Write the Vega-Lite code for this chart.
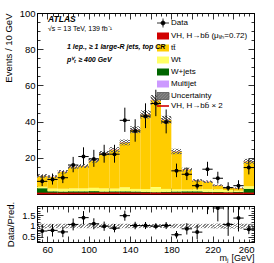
{
  "$schema": "https://vega.github.io/schema/vega-lite/v6.json",
  "padding": {"left": 2, "top": 7, "right": 2, "bottom": 0},
  "spacing": 5,
  "config": {
    "font": "Liberation Sans",
    "view": {"stroke": "black", "strokeWidth": 1},
    "axis": {"domainColor": "black", "tickColor": "black", "labelColor": "black", "titleColor": "black", "labelFont": "Liberation Sans", "titleFont": "Liberation Sans", "labelFontSize": 9.5, "titleFontSize": 9.5, "titleFontWeight": "normal", "grid": false, "labelPadding": 8, "tickWidth": 0.8}
  },
  "title": {"text": ["1 lep., ≥ 1 large-R jets,  top CR", "pⱽₜ ≥ 400 GeV"], "anchor": "start", "frame": "group", "font": "Liberation Sans", "fontSize": 7, "fontStyle": "italic", "fontWeight": "bold", "lineHeight": 13, "dx": 30, "dy": 55, "offset": 0},
  "datasets": {
    "stack": [
      {"lo":50,"hi":60,"p":"MJ","v":0.2,"o":1},{"lo":50,"hi":60,"p":"Wjets","v":3.0,"o":2},{"lo":50,"hi":60,"p":"Wt","v":0.8,"o":3},{"lo":50,"hi":60,"p":"tt","v":5.85,"o":4},{"lo":50,"hi":60,"p":"VH","v":0.15,"o":5},
      {"lo":60,"hi":70,"p":"MJ","v":0.2,"o":1},{"lo":60,"hi":70,"p":"Wjets","v":1.3,"o":2},{"lo":60,"hi":70,"p":"Wt","v":1.5,"o":3},{"lo":60,"hi":70,"p":"tt","v":6.35,"o":4},{"lo":60,"hi":70,"p":"VH","v":0.15,"o":5},
      {"lo":70,"hi":80,"p":"MJ","v":0.2,"o":1},{"lo":70,"hi":80,"p":"Wjets","v":1.2,"o":2},{"lo":70,"hi":80,"p":"Wt","v":1.5,"o":3},{"lo":70,"hi":80,"p":"tt","v":9.25,"o":4},{"lo":70,"hi":80,"p":"VH","v":0.15,"o":5},
      {"lo":80,"hi":90,"p":"MJ","v":0.2,"o":1},{"lo":80,"hi":90,"p":"Wjets","v":1.3,"o":2},{"lo":80,"hi":90,"p":"Wt","v":1.6,"o":3},{"lo":80,"hi":90,"p":"tt","v":11.75,"o":4},{"lo":80,"hi":90,"p":"VH","v":0.15,"o":5},
      {"lo":90,"hi":100,"p":"MJ","v":0.2,"o":1},{"lo":90,"hi":100,"p":"Wjets","v":1.3,"o":2},{"lo":90,"hi":100,"p":"Wt","v":1.6,"o":3},{"lo":90,"hi":100,"p":"tt","v":12.25,"o":4},{"lo":90,"hi":100,"p":"VH","v":0.15,"o":5},
      {"lo":100,"hi":110,"p":"MJ","v":0.2,"o":1},{"lo":100,"hi":110,"p":"Wjets","v":1.4,"o":2},{"lo":100,"hi":110,"p":"Wt","v":1.8,"o":3},{"lo":100,"hi":110,"p":"tt","v":14.95,"o":4},{"lo":100,"hi":110,"p":"VH","v":0.15,"o":5},
      {"lo":110,"hi":120,"p":"MJ","v":0.2,"o":1},{"lo":110,"hi":120,"p":"Wjets","v":1.2,"o":2},{"lo":110,"hi":120,"p":"Wt","v":1.7,"o":3},{"lo":110,"hi":120,"p":"tt","v":19.25,"o":4},{"lo":110,"hi":120,"p":"VH","v":0.15,"o":5},
      {"lo":120,"hi":130,"p":"MJ","v":0.2,"o":1},{"lo":120,"hi":130,"p":"Wjets","v":1.3,"o":2},{"lo":120,"hi":130,"p":"Wt","v":1.5,"o":3},{"lo":120,"hi":130,"p":"tt","v":21.35,"o":4},{"lo":120,"hi":130,"p":"VH","v":0.15,"o":5},
      {"lo":130,"hi":140,"p":"MJ","v":0.2,"o":1},{"lo":130,"hi":140,"p":"Wjets","v":1.3,"o":2},{"lo":130,"hi":140,"p":"Wt","v":2.2,"o":3},{"lo":130,"hi":140,"p":"tt","v":24.65,"o":4},{"lo":130,"hi":140,"p":"VH","v":0.15,"o":5},
      {"lo":140,"hi":150,"p":"MJ","v":0.2,"o":1},{"lo":140,"hi":150,"p":"Wjets","v":1.2,"o":2},{"lo":140,"hi":150,"p":"Wt","v":1.4,"o":3},{"lo":140,"hi":150,"p":"tt","v":32.55,"o":4},{"lo":140,"hi":150,"p":"VH","v":0.15,"o":5},
      {"lo":150,"hi":160,"p":"MJ","v":0.2,"o":1},{"lo":150,"hi":160,"p":"Wjets","v":1.0,"o":2},{"lo":150,"hi":160,"p":"Wt","v":1.5,"o":3},{"lo":150,"hi":160,"p":"tt","v":41.15,"o":4},{"lo":150,"hi":160,"p":"VH","v":0.15,"o":5},
      {"lo":160,"hi":170,"p":"MJ","v":0.2,"o":1},{"lo":160,"hi":170,"p":"Wjets","v":0.8,"o":2},{"lo":160,"hi":170,"p":"Wt","v":2.8,"o":3},{"lo":160,"hi":170,"p":"tt","v":48.05,"o":4},{"lo":160,"hi":170,"p":"VH","v":0.15,"o":5},
      {"lo":170,"hi":180,"p":"MJ","v":0.2,"o":1},{"lo":170,"hi":180,"p":"Wjets","v":1.0,"o":2},{"lo":170,"hi":180,"p":"Wt","v":1.6,"o":3},{"lo":170,"hi":180,"p":"tt","v":38.05,"o":4},{"lo":170,"hi":180,"p":"VH","v":0.15,"o":5},
      {"lo":180,"hi":190,"p":"MJ","v":0.2,"o":1},{"lo":180,"hi":190,"p":"Wjets","v":1.2,"o":2},{"lo":180,"hi":190,"p":"Wt","v":1.2,"o":3},{"lo":180,"hi":190,"p":"tt","v":20.75,"o":4},{"lo":180,"hi":190,"p":"VH","v":0.15,"o":5},
      {"lo":190,"hi":200,"p":"MJ","v":0.2,"o":1},{"lo":190,"hi":200,"p":"Wjets","v":1.3,"o":2},{"lo":190,"hi":200,"p":"Wt","v":1.0,"o":3},{"lo":190,"hi":200,"p":"tt","v":10.85,"o":4},{"lo":190,"hi":200,"p":"VH","v":0.15,"o":5},
      {"lo":200,"hi":210,"p":"MJ","v":0.2,"o":1},{"lo":200,"hi":210,"p":"Wjets","v":1.3,"o":2},{"lo":200,"hi":210,"p":"Wt","v":1.2,"o":3},{"lo":200,"hi":210,"p":"tt","v":4.65,"o":4},{"lo":200,"hi":210,"p":"VH","v":0.15,"o":5},
      {"lo":210,"hi":220,"p":"MJ","v":0.2,"o":1},{"lo":210,"hi":220,"p":"Wjets","v":1.0,"o":2},{"lo":210,"hi":220,"p":"Wt","v":1.5,"o":3},{"lo":210,"hi":220,"p":"tt","v":3.95,"o":4},{"lo":210,"hi":220,"p":"VH","v":0.15,"o":5},
      {"lo":220,"hi":230,"p":"MJ","v":0.2,"o":1},{"lo":220,"hi":230,"p":"Wjets","v":0.9,"o":2},{"lo":220,"hi":230,"p":"Wt","v":1.5,"o":3},{"lo":220,"hi":230,"p":"tt","v":2.05,"o":4},{"lo":220,"hi":230,"p":"VH","v":0.15,"o":5},
      {"lo":230,"hi":240,"p":"MJ","v":0.2,"o":1},{"lo":230,"hi":240,"p":"Wjets","v":0.8,"o":2},{"lo":230,"hi":240,"p":"Wt","v":1.2,"o":3},{"lo":230,"hi":240,"p":"tt","v":1.15,"o":4},{"lo":230,"hi":240,"p":"VH","v":0.15,"o":5},
      {"lo":240,"hi":250,"p":"MJ","v":0.2,"o":1},{"lo":240,"hi":250,"p":"Wjets","v":1.0,"o":2},{"lo":240,"hi":250,"p":"Wt","v":0.6,"o":3},{"lo":240,"hi":250,"p":"tt","v":1.35,"o":4},{"lo":240,"hi":250,"p":"VH","v":0.15,"o":5},
      {"lo":250,"hi":260,"p":"MJ","v":0.2,"o":1},{"lo":250,"hi":260,"p":"Wjets","v":2.7,"o":2},{"lo":250,"hi":260,"p":"Wt","v":1.4,"o":3},{"lo":250,"hi":260,"p":"tt","v":13.55,"o":4},{"lo":250,"hi":260,"p":"VH","v":0.15,"o":5}
    ],
    "bins": [
      {"lo":50,"hi":60,"ulo":9.0,"uhi":11.0,"blo":0.89,"bhi":1.11,"vh2":0.3},
      {"lo":60,"hi":70,"ulo":8.6,"uhi":10.4,"blo":0.9,"bhi":1.1,"vh2":0.3},
      {"lo":70,"hi":80,"ulo":11.3,"uhi":13.3,"blo":0.9,"bhi":1.1,"vh2":0.3},
      {"lo":80,"hi":90,"ulo":13.9,"uhi":16.1,"blo":0.9,"bhi":1.1,"vh2":0.35},
      {"lo":90,"hi":100,"ulo":14.4,"uhi":16.6,"blo":0.9,"bhi":1.1,"vh2":0.35},
      {"lo":100,"hi":110,"ulo":17.3,"uhi":19.7,"blo":0.9,"bhi":1.1,"vh2":0.4},
      {"lo":110,"hi":120,"ulo":21.2,"uhi":23.8,"blo":0.9,"bhi":1.1,"vh2":0.45},
      {"lo":120,"hi":130,"ulo":23.1,"uhi":25.9,"blo":0.9,"bhi":1.1,"vh2":0.45},
      {"lo":130,"hi":140,"ulo":26.9,"uhi":30.1,"blo":0.9,"bhi":1.1,"vh2":0.4},
      {"lo":140,"hi":150,"ulo":33.6,"uhi":37.4,"blo":0.9,"bhi":1.1,"vh2":0.35},
      {"lo":150,"hi":160,"ulo":41.7,"uhi":46.3,"blo":0.91,"bhi":1.09,"vh2":0.3},
      {"lo":160,"hi":170,"ulo":49.3,"uhi":54.7,"blo":0.91,"bhi":1.09,"vh2":0.3},
      {"lo":170,"hi":180,"ulo":38.8,"uhi":43.2,"blo":0.91,"bhi":1.09,"vh2":0.3},
      {"lo":180,"hi":190,"ulo":22.0,"uhi":25.0,"blo":0.9,"bhi":1.1,"vh2":0.3},
      {"lo":190,"hi":200,"ulo":12.5,"uhi":14.5,"blo":0.9,"bhi":1.1,"vh2":0.3},
      {"lo":200,"hi":210,"ulo":6.8,"uhi":8.2,"blo":0.9,"bhi":1.1,"vh2":0.3},
      {"lo":210,"hi":220,"ulo":6.1,"uhi":7.5,"blo":0.9,"bhi":1.1,"vh2":0.3},
      {"lo":220,"hi":230,"ulo":4.3,"uhi":5.3,"blo":0.89,"bhi":1.11,"vh2":0.3},
      {"lo":230,"hi":240,"ulo":3.1,"uhi":3.9,"blo":0.88,"bhi":1.12,"vh2":0.3},
      {"lo":240,"hi":250,"ulo":2.9,"uhi":3.7,"blo":0.88,"bhi":1.12,"vh2":0.3},
      {"lo":250,"hi":260,"ulo":16.6,"uhi":19.4,"blo":0.9,"bhi":1.1,"vh2":0.35}
    ],
    "obs": [
      {"x":55,"lo":50,"hi":60,"n":7.0,"nlo":4.4,"nhi":10.2,"r":0.77,"rlo":0.48,"rhi":1.06},
      {"x":65,"lo":60,"hi":70,"n":8.0,"nlo":5.2,"nhi":11.3,"r":0.8,"rlo":0.52,"rhi":1.08},
      {"x":75,"lo":70,"hi":80,"n":9.0,"nlo":6.0,"nhi":12.5,"r":0.73,"rlo":0.49,"rhi":0.97},
      {"x":85,"lo":80,"hi":90,"n":16.0,"nlo":12.0,"nhi":20.5,"r":1.07,"rlo":0.8,"rhi":1.34},
      {"x":95,"lo":90,"hi":100,"n":20.7,"nlo":16.2,"nhi":25.8,"r":1.38,"rlo":1.08,"rhi":1.68},
      {"x":105,"lo":100,"hi":110,"n":19.4,"nlo":15.0,"nhi":24.4,"r":1.1,"rlo":0.85,"rhi":1.35},
      {"x":115,"lo":110,"hi":120,"n":22.0,"nlo":17.3,"nhi":27.2,"r":0.99,"rlo":0.78,"rhi":1.2},
      {"x":125,"lo":120,"hi":130,"n":22.0,"nlo":17.3,"nhi":27.2,"r":0.9,"rlo":0.71,"rhi":1.09},
      {"x":135,"lo":130,"hi":140,"n":40.7,"nlo":34.3,"nhi":47.7,"r":1.47,"rlo":1.24,"rhi":1.7},
      {"x":145,"lo":140,"hi":150,"n":34.8,"nlo":28.9,"nhi":41.3,"r":1.02,"rlo":0.85,"rhi":1.19},
      {"x":155,"lo":150,"hi":160,"n":43.0,"nlo":36.4,"nhi":50.1,"r":1.02,"rlo":0.86,"rhi":1.18},
      {"x":165,"lo":160,"hi":170,"n":50.0,"nlo":43.0,"nhi":57.6,"r":0.99,"rlo":0.85,"rhi":1.13},
      {"x":175,"lo":170,"hi":180,"n":39.8,"nlo":33.5,"nhi":46.7,"r":1.02,"rlo":0.86,"rhi":1.18},
      {"x":185,"lo":180,"hi":190,"n":12.8,"nlo":9.3,"nhi":16.8,"r":0.6,"rlo":0.43,"rhi":0.77},
      {"x":195,"lo":190,"hi":200,"n":10.9,"nlo":7.7,"nhi":14.7,"r":0.87,"rlo":0.61,"rhi":1.13},
      {"x":205,"lo":200,"hi":210,"n":4.6,"nlo":2.5,"nhi":7.6,"r":0.72,"rlo":0.4,"rhi":1.04},
      {"x":215,"lo":210,"hi":220,"n":13.7,"nlo":10.0,"nhi":17.8,"r":2.1,"rlo":1.54,"rhi":2.66},
      {"x":225,"lo":220,"hi":230,"n":8.7,"nlo":5.8,"nhi":12.3,"r":1.82,"rlo":1.21,"rhi":2.43},
      {"x":235,"lo":230,"hi":240,"n":3.5,"nlo":1.7,"nhi":6.5,"r":1.07,"rlo":0.55,"rhi":1.95},
      {"x":245,"lo":240,"hi":250,"n":4.6,"nlo":2.5,"nhi":7.6,"r":1.36,"rlo":0.75,"rhi":1.97},
      {"x":255,"lo":250,"hi":260,"n":14.6,"nlo":10.8,"nhi":18.8,"r":0.85,"rlo":0.63,"rhi":1.07}
    ]
  },
  "vconcat": [
    {
      "width": 217,
      "height": 181,
      "title": {"text": "ATLAS", "subtitle": "√s = 13 TeV, 139 fb⁻¹", "anchor": "start", "frame": "group", "font": "Liberation Sans", "fontSize": 8.5, "fontStyle": "italic", "fontWeight": "bold", "subtitleFont": "Liberation Sans", "subtitleFontSize": 7, "subtitleFontStyle": "normal", "subtitleFontWeight": "normal", "subtitleColor": "black", "subtitlePadding": 2, "dx": 11, "dy": 24, "offset": 0},
      "resolve": {"axis": {"x": "independent", "y": "independent"}},
      "layer": [
        {
          "data": {"name": "stack"},
          "transform": [{"stack": "v", "groupby": ["lo"], "sort": [{"field": "o", "order": "ascending"}], "as": ["v0", "v1"]}],
          "mark": {"type": "rect", "strokeWidth": 0},
          "encoding": {
            "x": {"field": "lo", "type": "quantitative", "scale": {"domain": [50, 260], "nice": false, "zero": false},
                  "axis": {"orient": "bottom", "title": null, "values": [50,55,60,65,70,75,80,85,90,95,100,105,110,115,120,125,130,135,140,145,150,155,160,165,170,175,180,185,190,195,200,205,210,215,220,225,230,235,240,245,250,255,260], "labels": false, "tickSize": {"condition": {"test": "datum.value % 20 === 0", "value": -6}, "value": -3}}},
            "x2": {"field": "hi"},
            "y": {"field": "v0", "type": "quantitative", "scale": {"domain": [0, 100], "nice": false},
                  "axis": {"orient": "left", "title": "Events / 10 GeV", "titleAnchor": "end", "titlePadding": 6, "values": [0,5,10,15,20,25,30,35,40,45,50,55,60,65,70,75,80,85,90,95,100], "labelExpr": "datum.value % 20 === 0 && datum.value > 0 ? datum.label : ''", "tickSize": {"condition": {"test": "datum.value % 20 === 0", "value": -6}, "value": -3}}},
            "y2": {"field": "v1"},
            "color": {"field": "p", "type": "nominal",
              "scale": {"domain": ["Data", "VH", "tt", "Wt", "Wjets", "MJ", "Unc", "VH2"], "range": ["black", "#D10000", "#FFCC00", "#FFFF66", "#006600", "#CC99FF", "#888888", "#D10000"]},
              "legend": {"orient": "none", "legendX": 122, "legendY": 6, "title": null, "labelFont": "Liberation Sans", "labelFontSize": 8, "labelColor": "black", "symbolSize": 100, "rowPadding": 0, "labelOffset": 4, "labelLimit": 200,
                "labelExpr": "{'Data': 'Data', 'VH': 'VH, H→bb̄ (μᵥₕ=0.72)', 'tt': 'tt̄', 'Wt': 'Wt', 'Wjets': 'W+jets', 'MJ': 'Multijet', 'Unc': 'Uncertainty', 'VH2': 'VH, H→bb̄ × 2'}[datum.value]",
                "encode": {"symbols": {"update": {
                  "shape": {"signal": "datum.value === 'Data' ? 'M-1.2,0H1.2M0,-0.9V0.9M-0.4,0A0.4,0.4 0 1,1 0.4,0A0.4,0.4 0 1,1 -0.4,0Z' : datum.value === 'Unc' ? 'M-1.2,-0.7H1.2V0.7H-1.2ZM-1.2,0.1L-0.4,-0.7M-1.2,0.7L0.2,-0.7M-0.6,0.7L0.8,-0.7M0,0.7L1.2,-0.5M0.6,0.7L1.2,0.1' : datum.value === 'VH2' ? 'M-1.2,0H1.2' : 'M-1.2,-0.7H1.2V0.7H-1.2Z'"},
                  "fill": {"signal": "datum.value === 'Unc' || datum.value === 'VH2' ? 'transparent' : scale('color', datum.value)"},
                  "stroke": {"signal": "datum.value === 'Data' ? 'black' : datum.value === 'Unc' ? '#555555' : datum.value === 'VH2' ? '#D10000' : 'transparent'"},
                  "strokeWidth": {"signal": "datum.value === 'VH2' ? 1.6 : 0.8"},
                  "opacity": {"value": 1}
                }}}}}
          }
        },
        {
          "data": {"name": "bins"},
          "mark": {"type": "rect", "strokeWidth": 0, "fill": {"gradient": "linear", "x1": 0, "y1": 1, "x2": 1, "y2": 0, "stops": [
            {"offset": 0, "color": "#666666"}, {"offset": 0.083, "color": "#666666"}, {"offset": 0.083, "color": "rgba(255,255,255,0)"}, {"offset": 0.167, "color": "rgba(255,255,255,0)"},
            {"offset": 0.167, "color": "#666666"}, {"offset": 0.25, "color": "#666666"}, {"offset": 0.25, "color": "rgba(255,255,255,0)"}, {"offset": 0.333, "color": "rgba(255,255,255,0)"},
            {"offset": 0.333, "color": "#666666"}, {"offset": 0.417, "color": "#666666"}, {"offset": 0.417, "color": "rgba(255,255,255,0)"}, {"offset": 0.5, "color": "rgba(255,255,255,0)"},
            {"offset": 0.5, "color": "#666666"}, {"offset": 0.583, "color": "#666666"}, {"offset": 0.583, "color": "rgba(255,255,255,0)"}, {"offset": 0.667, "color": "rgba(255,255,255,0)"},
            {"offset": 0.667, "color": "#666666"}, {"offset": 0.75, "color": "#666666"}, {"offset": 0.75, "color": "rgba(255,255,255,0)"}, {"offset": 0.833, "color": "rgba(255,255,255,0)"},
            {"offset": 0.833, "color": "#666666"}, {"offset": 0.917, "color": "#666666"}, {"offset": 0.917, "color": "rgba(255,255,255,0)"}, {"offset": 1, "color": "rgba(255,255,255,0)"}]}},
          "encoding": {
            "x": {"field": "lo", "type": "quantitative",
                  "axis": {"orient": "top", "title": null, "values": [50,55,60,65,70,75,80,85,90,95,100,105,110,115,120,125,130,135,140,145,150,155,160,165,170,175,180,185,190,195,200,205,210,215,220,225,230,235,240,245,250,255,260], "labels": false, "tickSize": {"condition": {"test": "datum.value % 20 === 0", "value": -6}, "value": -3}}},
            "x2": {"field": "hi"},
            "y": {"field": "ulo", "type": "quantitative",
                  "axis": {"orient": "right", "title": null, "values": [0,5,10,15,20,25,30,35,40,45,50,55,60,65,70,75,80,85,90,95,100], "labels": false, "tickSize": {"condition": {"test": "datum.value % 20 === 0", "value": -6}, "value": -3}}},
            "y2": {"field": "uhi"}
          }
        },
        {
          "data": {"name": "bins"},
          "mark": {"type": "rule", "color": "#D10000", "strokeWidth": 1.6},
          "encoding": {
            "x": {"field": "lo", "type": "quantitative", "axis": null},
            "x2": {"field": "hi"},
            "y": {"field": "vh2", "type": "quantitative", "axis": null}
          }
        },
        {
          "data": {"name": "obs"},
          "mark": {"type": "rule", "color": "black", "strokeWidth": 1},
          "encoding": {
            "x": {"field": "x", "type": "quantitative", "axis": null},
            "y": {"field": "nlo", "type": "quantitative", "axis": null},
            "y2": {"field": "nhi"}
          }
        },
        {
          "data": {"name": "obs"},
          "mark": {"type": "rule", "color": "black", "strokeWidth": 1},
          "encoding": {
            "x": {"field": "lo", "type": "quantitative", "axis": null},
            "x2": {"field": "hi"},
            "y": {"field": "n", "type": "quantitative", "axis": null}
          }
        },
        {
          "data": {"name": "obs"},
          "mark": {"type": "point", "filled": true, "shape": "circle", "size": 16, "color": "black", "opacity": 1},
          "encoding": {
            "x": {"field": "x", "type": "quantitative", "axis": null},
            "y": {"field": "n", "type": "quantitative", "axis": null}
          }
        }
      ]
    },
    {
      "width": 217,
      "height": 36,
      "resolve": {"axis": {"x": "independent", "y": "independent"}},
      "layer": [
        {
          "data": {"name": "bins"},
          "mark": {"type": "rect", "strokeWidth": 0, "fill": {"gradient": "linear", "x1": 0, "y1": 1, "x2": 1, "y2": 0, "stops": [
            {"offset": 0, "color": "#888888"}, {"offset": 0.083, "color": "#888888"}, {"offset": 0.083, "color": "rgba(255,255,255,0)"}, {"offset": 0.167, "color": "rgba(255,255,255,0)"},
            {"offset": 0.167, "color": "#888888"}, {"offset": 0.25, "color": "#888888"}, {"offset": 0.25, "color": "rgba(255,255,255,0)"}, {"offset": 0.333, "color": "rgba(255,255,255,0)"},
            {"offset": 0.333, "color": "#888888"}, {"offset": 0.417, "color": "#888888"}, {"offset": 0.417, "color": "rgba(255,255,255,0)"}, {"offset": 0.5, "color": "rgba(255,255,255,0)"},
            {"offset": 0.5, "color": "#888888"}, {"offset": 0.583, "color": "#888888"}, {"offset": 0.583, "color": "rgba(255,255,255,0)"}, {"offset": 0.667, "color": "rgba(255,255,255,0)"},
            {"offset": 0.667, "color": "#888888"}, {"offset": 0.75, "color": "#888888"}, {"offset": 0.75, "color": "rgba(255,255,255,0)"}, {"offset": 0.833, "color": "rgba(255,255,255,0)"},
            {"offset": 0.833, "color": "#888888"}, {"offset": 0.917, "color": "#888888"}, {"offset": 0.917, "color": "rgba(255,255,255,0)"}, {"offset": 1, "color": "rgba(255,255,255,0)"}]}},
          "encoding": {
            "x": {"field": "lo", "type": "quantitative", "scale": {"domain": [50, 260], "nice": false, "zero": false},
                  "axis": {"orient": "bottom", "title": "mⱼ [GeV]", "titleAnchor": "end", "titlePadding": 0, "titleFontSize": 9, "format": "d", "values": [50,55,60,65,70,75,80,85,90,95,100,105,110,115,120,125,130,135,140,145,150,155,160,165,170,175,180,185,190,195,200,205,210,215,220,225,230,235,240,245,250,255,260], "labelExpr": "datum.value % 20 === 0 ? datum.label : ''", "tickSize": {"condition": {"test": "datum.value % 20 === 0", "value": -6}, "value": -3}}},
            "x2": {"field": "hi"},
            "y": {"field": "blo", "type": "quantitative", "scale": {"domain": [0.27, 1.91], "nice": false, "zero": false},
                  "axis": {"orient": "left", "title": "Data/Pred.", "titlePadding": 6, "format": "~g", "values": [0.3,0.4,0.5,0.6,0.7,0.8,0.9,1,1.1,1.2,1.3,1.4,1.5,1.6,1.7,1.8,1.9], "labelExpr": "datum.value === 0.5 || datum.value === 1 || datum.value === 1.5 ? datum.label : ''", "tickSize": {"condition": {"test": "datum.value === 0.5 || datum.value === 1 || datum.value === 1.5", "value": -6}, "value": -3}}},
            "y2": {"field": "bhi"}
          }
        },
        {
          "data": {"name": "obs"},
          "mark": {"type": "rule", "color": "black", "strokeWidth": 1, "clip": true},
          "encoding": {
            "x": {"field": "x", "type": "quantitative",
                  "axis": {"orient": "top", "title": null, "values": [50,55,60,65,70,75,80,85,90,95,100,105,110,115,120,125,130,135,140,145,150,155,160,165,170,175,180,185,190,195,200,205,210,215,220,225,230,235,240,245,250,255,260], "labels": false, "tickSize": {"condition": {"test": "datum.value % 20 === 0", "value": -6}, "value": -3}}},
            "y": {"field": "rlo", "type": "quantitative",
                  "axis": {"orient": "right", "title": null, "values": [0.3,0.4,0.5,0.6,0.7,0.8,0.9,1,1.1,1.2,1.3,1.4,1.5,1.6,1.7,1.8,1.9], "labels": false, "tickSize": {"condition": {"test": "datum.value === 0.5 || datum.value === 1 || datum.value === 1.5", "value": -6}, "value": -3}}},
            "y2": {"field": "rhi"}
          }
        },
        {
          "data": {"name": "obs"},
          "mark": {"type": "rule", "color": "black", "strokeWidth": 1, "clip": true},
          "encoding": {
            "x": {"field": "lo", "type": "quantitative", "axis": null},
            "x2": {"field": "hi"},
            "y": {"field": "r", "type": "quantitative", "axis": null}
          }
        },
        {
          "data": {"name": "obs"},
          "mark": {"type": "point", "filled": true, "shape": "circle", "size": 16, "color": "black", "opacity": 1, "clip": true},
          "encoding": {
            "x": {"field": "x", "type": "quantitative", "axis": null},
            "y": {"field": "r", "type": "quantitative", "axis": null}
          }
        }
      ]
    }
  ]
}
